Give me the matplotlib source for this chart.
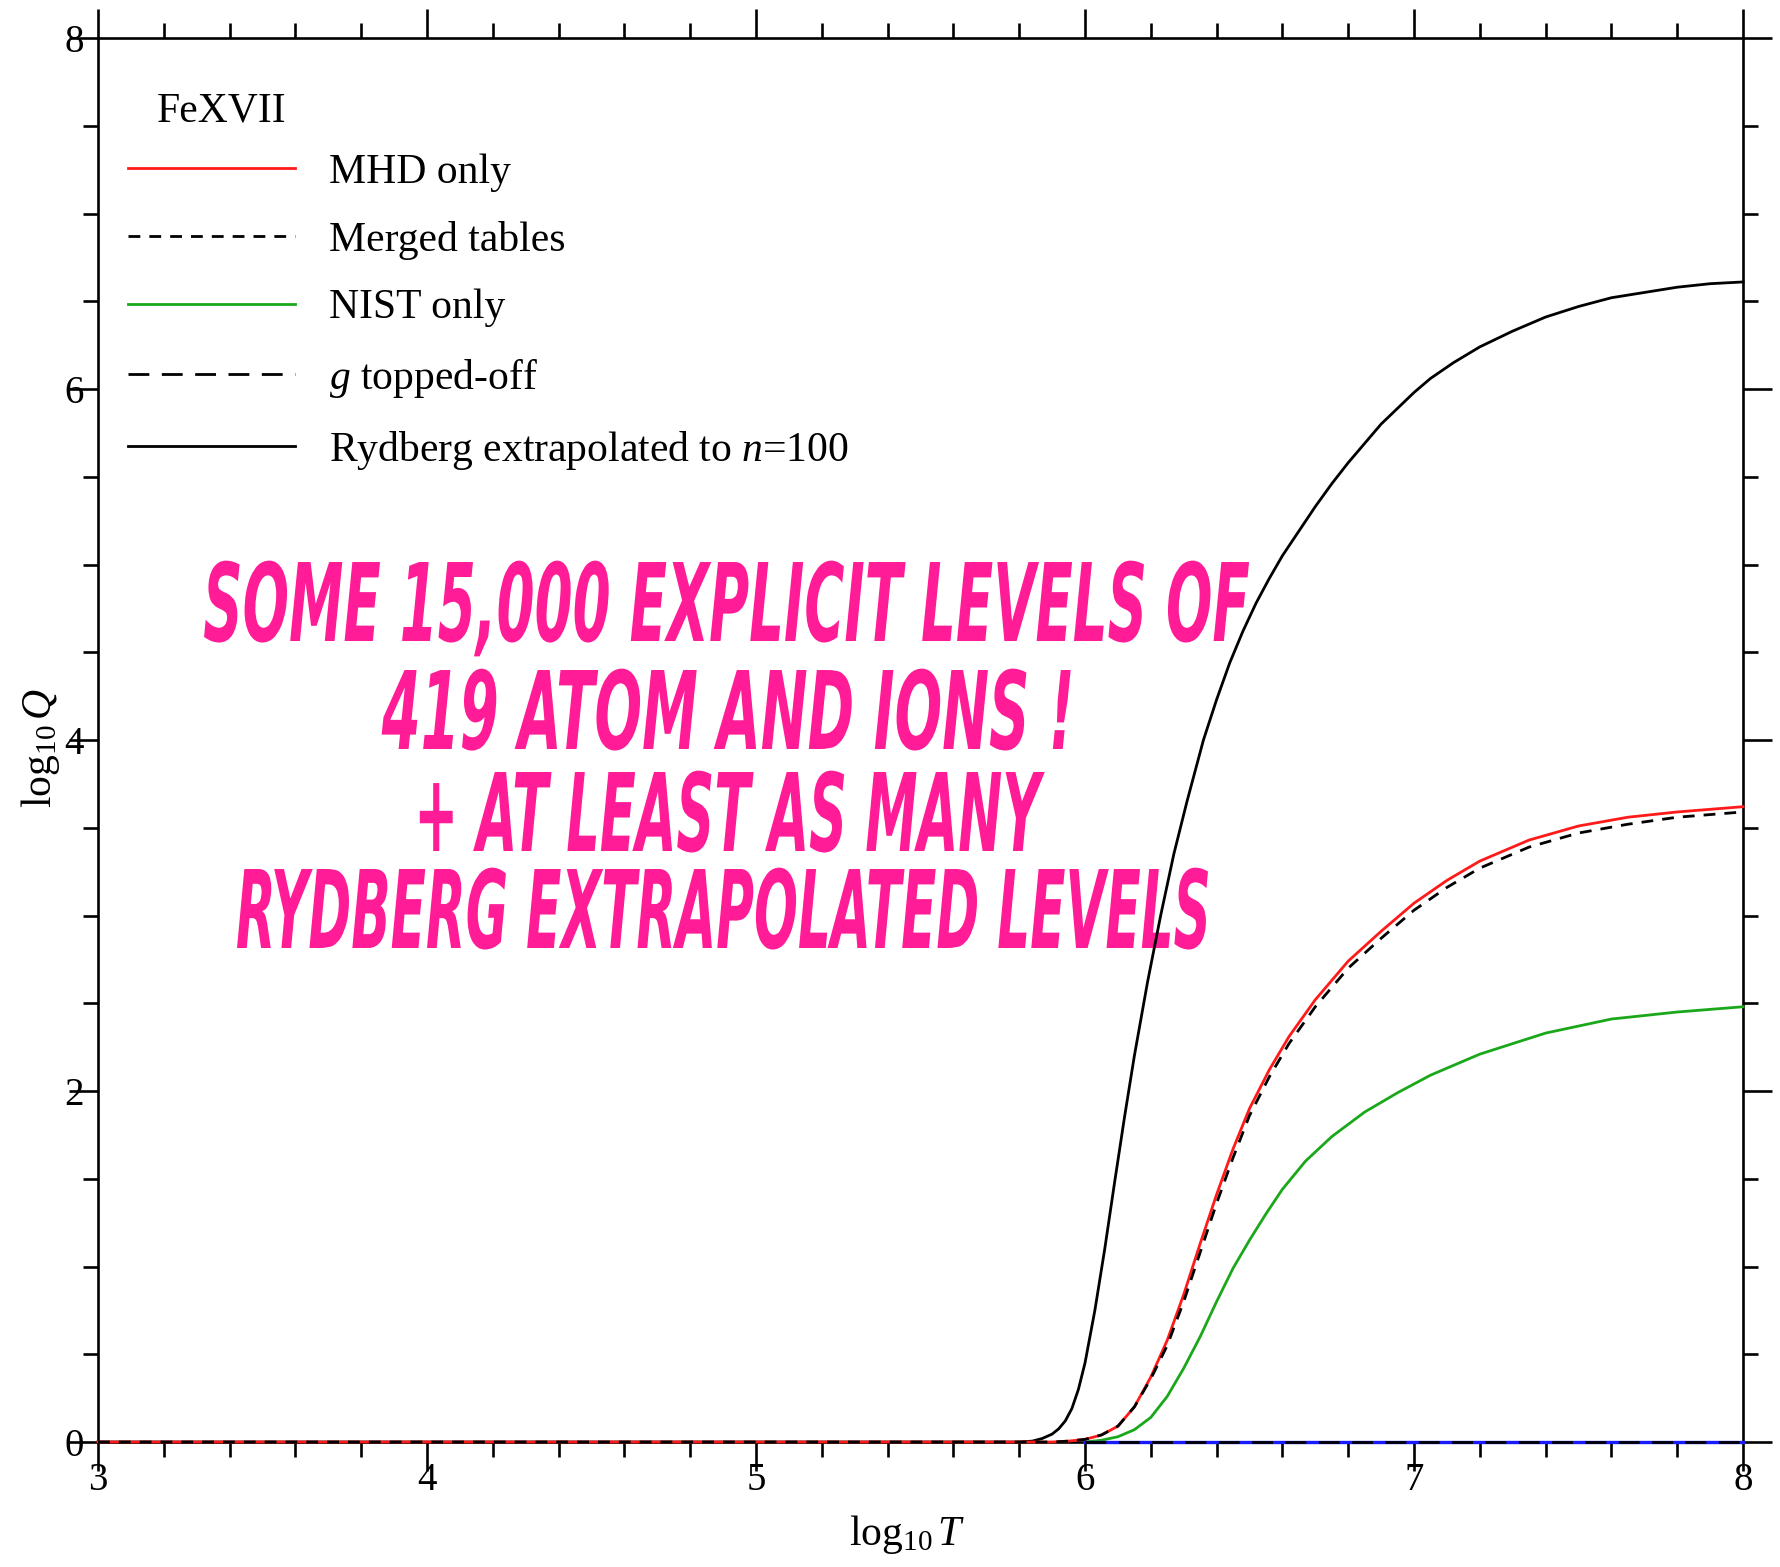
import matplotlib
matplotlib.use("Agg")
import matplotlib.pyplot as plt
from matplotlib.patheffects import AbstractPathEffect
from matplotlib.transforms import Affine2D
from matplotlib.ticker import MultipleLocator

plt.rcParams["font.family"] = ["Liberation Serif", "DejaVu Serif"]
plt.rcParams["mathtext.fontset"] = "custom"
plt.rcParams["mathtext.rm"] = "Liberation Serif"
plt.rcParams["mathtext.it"] = "Liberation Serif:italic"
plt.rcParams["lines.scale_dashes"] = False

# ---- partition function of Fe XVII, log10 Q versus log10 T ----
ryd_logT = [3.0, 5.80, 5.84, 5.87, 5.90, 5.92, 5.94, 5.96, 5.98, 6.00, 6.03, 6.06,
            6.09, 6.12, 6.15, 6.19, 6.23, 6.27, 6.31, 6.36, 6.40, 6.44, 6.48, 6.52,
            6.56, 6.60, 6.65, 6.70, 6.75, 6.80, 6.85, 6.90, 6.95, 7.00, 7.05, 7.12,
            7.20, 7.30, 7.40, 7.50, 7.60, 7.70, 7.80, 7.90, 8.0]
ryd_logQ = [0.0, 0.0, 0.005, 0.02, 0.045, 0.075, 0.12, 0.19, 0.30, 0.45, 0.75, 1.10,
            1.48, 1.85, 2.20, 2.62, 3.00, 3.35, 3.65, 4.00, 4.23, 4.44, 4.62, 4.78,
            4.92, 5.05, 5.19, 5.33, 5.46, 5.58, 5.69, 5.80, 5.89, 5.98, 6.06, 6.15,
            6.24, 6.33, 6.41, 6.47, 6.52, 6.55, 6.58, 6.60, 6.61]

mhd_logT = [3.0, 5.90, 5.95, 6.00, 6.05, 6.10, 6.15, 6.20, 6.25, 6.30, 6.35, 6.40,
            6.45, 6.50, 6.56, 6.62, 6.70, 6.80, 6.90, 7.00, 7.10, 7.20, 7.35, 7.50,
            7.65, 7.80, 8.0]
mhd_logQ = [0.0, 0.0, 0.005, 0.015, 0.04, 0.09, 0.20, 0.37, 0.58, 0.84, 1.13, 1.41,
            1.67, 1.90, 2.12, 2.31, 2.52, 2.74, 2.91, 3.07, 3.20, 3.31, 3.43, 3.51,
            3.56, 3.59, 3.62]

merged_logT = mhd_logT
merged_logQ = [0.0, 0.0, 0.005, 0.015, 0.04, 0.09, 0.20, 0.36, 0.55, 0.80, 1.08, 1.36,
               1.62, 1.86, 2.08, 2.27, 2.48, 2.70, 2.87, 3.03, 3.16, 3.27, 3.39, 3.47,
               3.52, 3.56, 3.59]

nist_logT = [6.00, 6.05, 6.10, 6.15, 6.20, 6.25, 6.30, 6.35, 6.40, 6.45, 6.50, 6.55,
             6.60, 6.67, 6.75, 6.85, 6.95, 7.05, 7.20, 7.40, 7.60, 7.80, 8.0]
nist_logQ = [0.0, 0.01, 0.03, 0.07, 0.14, 0.26, 0.42, 0.60, 0.80, 0.99, 1.15, 1.30,
             1.44, 1.60, 1.74, 1.88, 1.99, 2.09, 2.21, 2.33, 2.41, 2.45, 2.48]

gtop_logT = [6.0, 8.0]
gtop_logQ = [0.0, 0.0]

diff_logT = [6.0, 8.0]
diff_logQ = [0.0, 0.0]

legend_labels = ["MHD only", "Merged tables", "NIST only",
                 r"$g$ topped-off", r"Rydberg extrapolated to $n$=100"]
ion_name = "FeXVII"

banner_lines = ["SOME 15,000 EXPLICIT LEVELS OF",
                "419 ATOM AND IONS !",
                "+ AT LEAST AS MANY",
                "RYDBERG EXTRAPOLATED LEVELS"]


class Squeeze(AbstractPathEffect):
    """Draw glyphs rescaled to a given pixel width, stretched upward from the baseline."""

    def __init__(self, width_px, sy=1.0):
        super().__init__()
        self.width_px = width_px
        self.sy = sy

    def draw_path(self, renderer, gc, tpath, affine, rgbFace=None):
        ext = affine.transform_path(tpath).get_extents()
        cx = 0.5 * (ext.x0 + ext.x1)
        base = affine.transform((0.0, 0.0))[1]
        sx = self.width_px / max(ext.width, 1e-6)
        squeeze = (Affine2D().translate(-cx, -base)
                   .scale(sx, self.sy).translate(cx, base))
        renderer.draw_path(gc, tpath, affine + squeeze, rgbFace)


W, H = 1780, 1567
fig = plt.figure(figsize=(W / 100, H / 100), dpi=100)
ax = fig.add_axes([98 / W, 1 - 1442 / H, (1743 - 98) / W, (1442 - 38) / H])

lw = 2.0
h_ryd, = ax.plot(ryd_logT, ryd_logQ, color="black", lw=lw, zorder=3, clip_on=False)
h_nist, = ax.plot(nist_logT, nist_logQ, color="#1aa81a", lw=lw, zorder=3.1, clip_on=False)
h_mhd, = ax.plot(mhd_logT, mhd_logQ, color="#ff1a1a", lw=lw, zorder=3.2, clip_on=False)
ax.plot(diff_logT, diff_logQ, color="#1a1aff", lw=2.4, zorder=3.3, clip_on=False)
h_merged, = ax.plot(merged_logT, merged_logQ, color="black", lw=lw,
                    dashes=(8.5, 6.5), zorder=3.4, clip_on=False)
h_gtop, = ax.plot(gtop_logT, gtop_logQ, color="black", lw=lw,
                  dashes=(15, 9), zorder=3.5, clip_on=False)

ax.set_xlim(3, 8)
ax.set_ylim(0, 8)
ax.xaxis.set_major_locator(MultipleLocator(1))
ax.xaxis.set_minor_locator(MultipleLocator(0.2))
ax.yaxis.set_major_locator(MultipleLocator(2))
ax.yaxis.set_minor_locator(MultipleLocator(0.5))

for sp in ax.spines.values():
    sp.set_linewidth(1.9)
ax.tick_params(which="both", direction="out", top=True, right=True,
               width=1.9, labelsize=28)
ax.tick_params(which="major", length=21)
ax.tick_params(which="minor", length=11)
ax.tick_params(axis="x", which="major", pad=-6.5)
ax.tick_params(axis="y", which="major", pad=-11)

ax.set_xlabel(r"$\mathrm{log}_{10}\,T$", fontsize=30, va="center")
ax.set_ylabel(r"$\mathrm{log}_{10}\,Q$", fontsize=30, va="center")
ax.xaxis.set_label_coords(0.492, -0.066)
ax.yaxis.set_label_coords(-0.035, 0.494)

# legend block in the upper left
fig.text(157 / W, 1 - 122 / H, ion_name, fontsize=30, va="baseline", ha="left")
ax.legend([h_mhd, h_merged, h_nist, h_gtop, h_ryd], legend_labels,
          loc="upper left", bbox_to_anchor=(128 / W, 1 - 153 / H),
          bbox_transform=fig.transFigure, frameon=False, fontsize=30,
          handlelength=4.0, handletextpad=0.82, labelspacing=0.70,
          borderpad=0, borderaxespad=0)

# pink banner across the middle of the plot
banner_pos = [(726, 641, 1045), (728, 749, 689), (727, 851, 625), (723, 948, 971)]
for text, (cx, base, width) in zip(banner_lines, banner_pos):
    ax.text(cx / W, 1 - base / H, text, transform=fig.transFigure,
            fontsize=40, fontweight="bold", fontstyle="italic",
            family="DejaVu Sans", color="#ff1c96", ha="center", va="baseline",
            zorder=2, path_effects=[Squeeze(width, sy=1.95)])

fig.savefig("out.png", dpi=100)
